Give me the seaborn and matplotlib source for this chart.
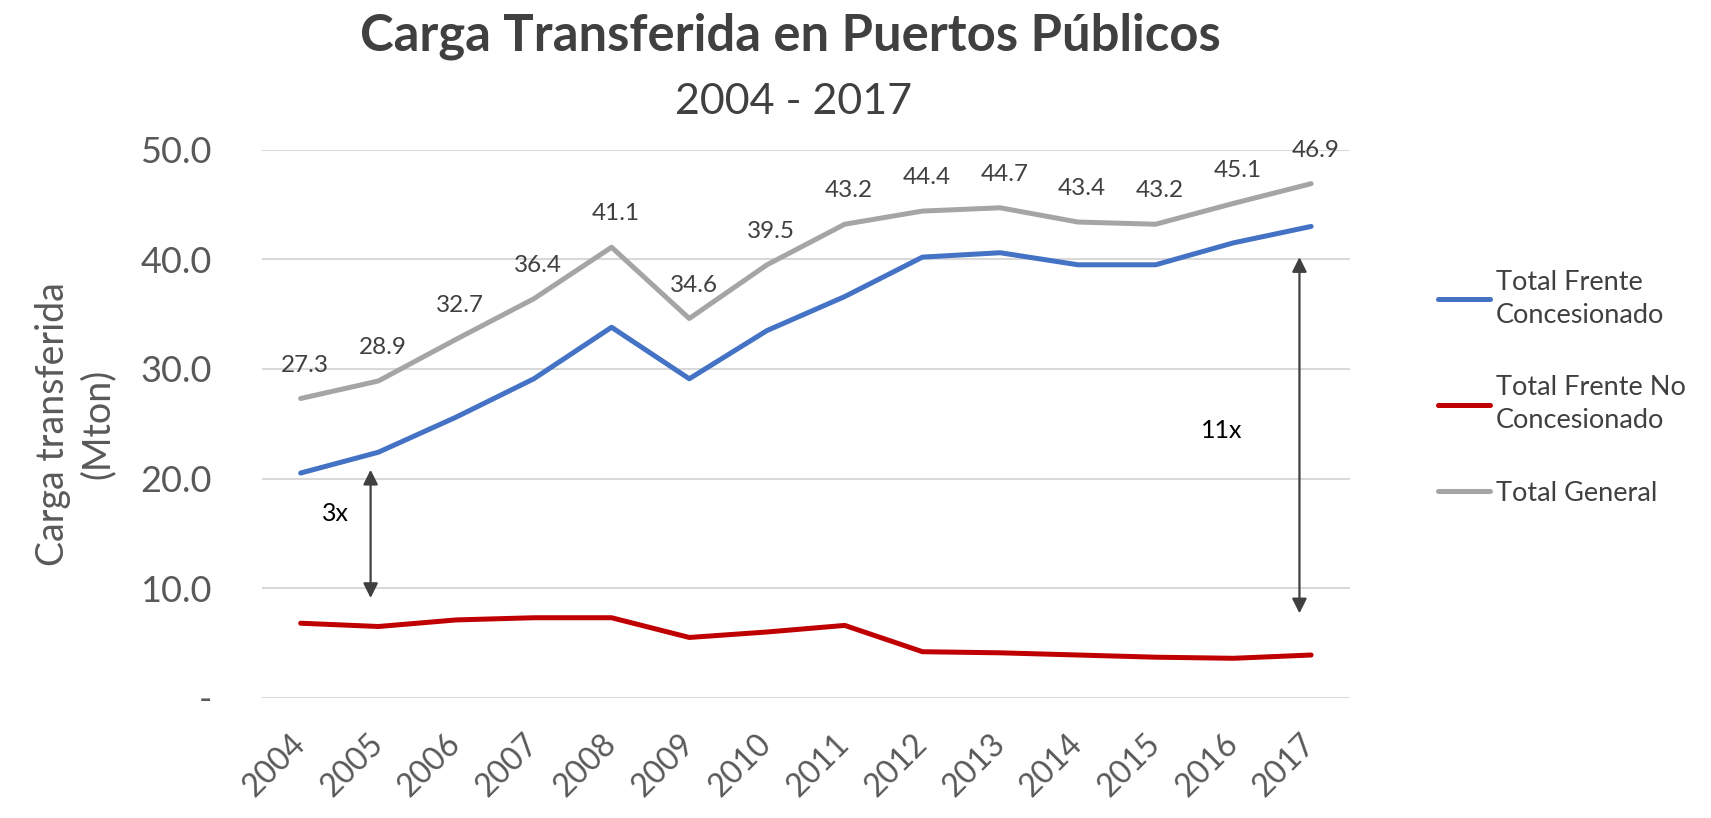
import numpy as np
import pandas as pd
import seaborn as sns
import matplotlib.pyplot as plt

# data (Mton)
years = list(range(2004, 2018))
concesionado = [20.5, 22.4, 25.6, 29.1, 33.8, 29.1, 33.5, 36.6, 40.2, 40.6, 39.5, 39.5, 41.5, 43.0]
no_concesionado = [6.8, 6.5, 7.1, 7.3, 7.3, 5.5, 6.0, 6.6, 4.2, 4.1, 3.9, 3.7, 3.6, 3.9]
total_general = [27.3, 28.9, 32.7, 36.4, 41.1, 34.6, 39.5, 43.2, 44.4, 44.7, 43.4, 43.2, 45.1, 46.9]

series_names = ['Total Frente\nConcesionado', 'Total Frente No\nConcesionado', 'Total General']
colors = ['#4472C4', '#C00000', '#A5A5A5']

df = pd.DataFrame({
    'year': years * 3,
    'value': concesionado + no_concesionado + total_general,
    'serie': [series_names[0]] * 14 + [series_names[1]] * 14 + [series_names[2]] * 14,
})

sns.set_style('white')
plt.rcParams['font.family'] = ['Lato', 'DejaVu Sans']
txt = '#404040'

fig = plt.figure(figsize=(17.11, 8.18), dpi=100)
ax = fig.add_axes([0.153, 0.147, 0.636, 0.670])

sns.lineplot(data=df, x='year', y='value', hue='serie', palette=colors,
             linewidth=3.6, ax=ax, legend=False)
for l in ax.lines:
    l.set_solid_capstyle('round')

# etiquetas sobre el total general
for x, v in zip(years, total_general):
    ax.annotate(f'{v:.1f}', (x, v), xytext=(3, 24), textcoords='offset points',
                ha='center', va='center', fontsize=17.5, color=txt, annotation_clip=False)

ax.set_xlim(2003.5, 2017.5)
ax.set_ylim(0, 50)
ax.set_yticks([0, 10, 20, 30, 40, 50])
ax.set_yticklabels(['-', '10.0', '20.0', '30.0', '40.0', '50.0'])
ax.set_xticks(years)
ax.set_xticklabels([str(y) for y in years], rotation=45, ha='right', va='center',
                   rotation_mode='anchor')
ax.tick_params(axis='y', labelsize=26, labelcolor='#595959', length=0, pad=36)
ax.tick_params(axis='x', labelsize=23, labelcolor='#595959', length=0, pad=30)
ax.grid(axis='y', color='#D9D9D9', linewidth=1.5)
ax.set_axisbelow(True)
for s in ax.spines.values():
    s.set_visible(False)
ax.set_xlabel('')
ax.set_ylabel('Carga transferida\n(Mton)', fontsize=27, color='#595959', labelpad=18,
              linespacing=1.3)

# flechas
arrow = dict(arrowstyle='<|-|>', color='#404040', lw=1.6, mutation_scale=22, shrinkA=0, shrinkB=0)
ax.annotate('', xy=(2004.9, 20.8), xytext=(2004.9, 9.1), arrowprops=arrow)
ax.text(2004.45, 16.8, '3x', fontsize=18, color='black', ha='center', va='center')
ax.annotate('', xy=(2016.85, 40.2), xytext=(2016.85, 7.7), arrowprops=arrow)
ax.text(2015.85, 24.4, '11x', fontsize=18, color='black', ha='center', va='center')

fig.text(0.462, 0.956, 'Carga Transferida en Puertos Públicos', fontsize=36.5, fontweight='bold',
         color=txt, ha='center', va='center')
fig.text(0.464, 0.875, '2004 - 2017', fontsize=31, color=txt, ha='center', va='center')

handles = ax.lines[:3]
leg = fig.legend(handles, series_names, loc='upper left', bbox_to_anchor=(0.826, 0.70),
                 frameon=False, fontsize=19.5, labelcolor=txt, handlelength=1.95,
                 handletextpad=0.2, labelspacing=1.75)
for t in leg.get_texts():
    t.set_linespacing(1.4)

fig.savefig('out.png', dpi=100)
